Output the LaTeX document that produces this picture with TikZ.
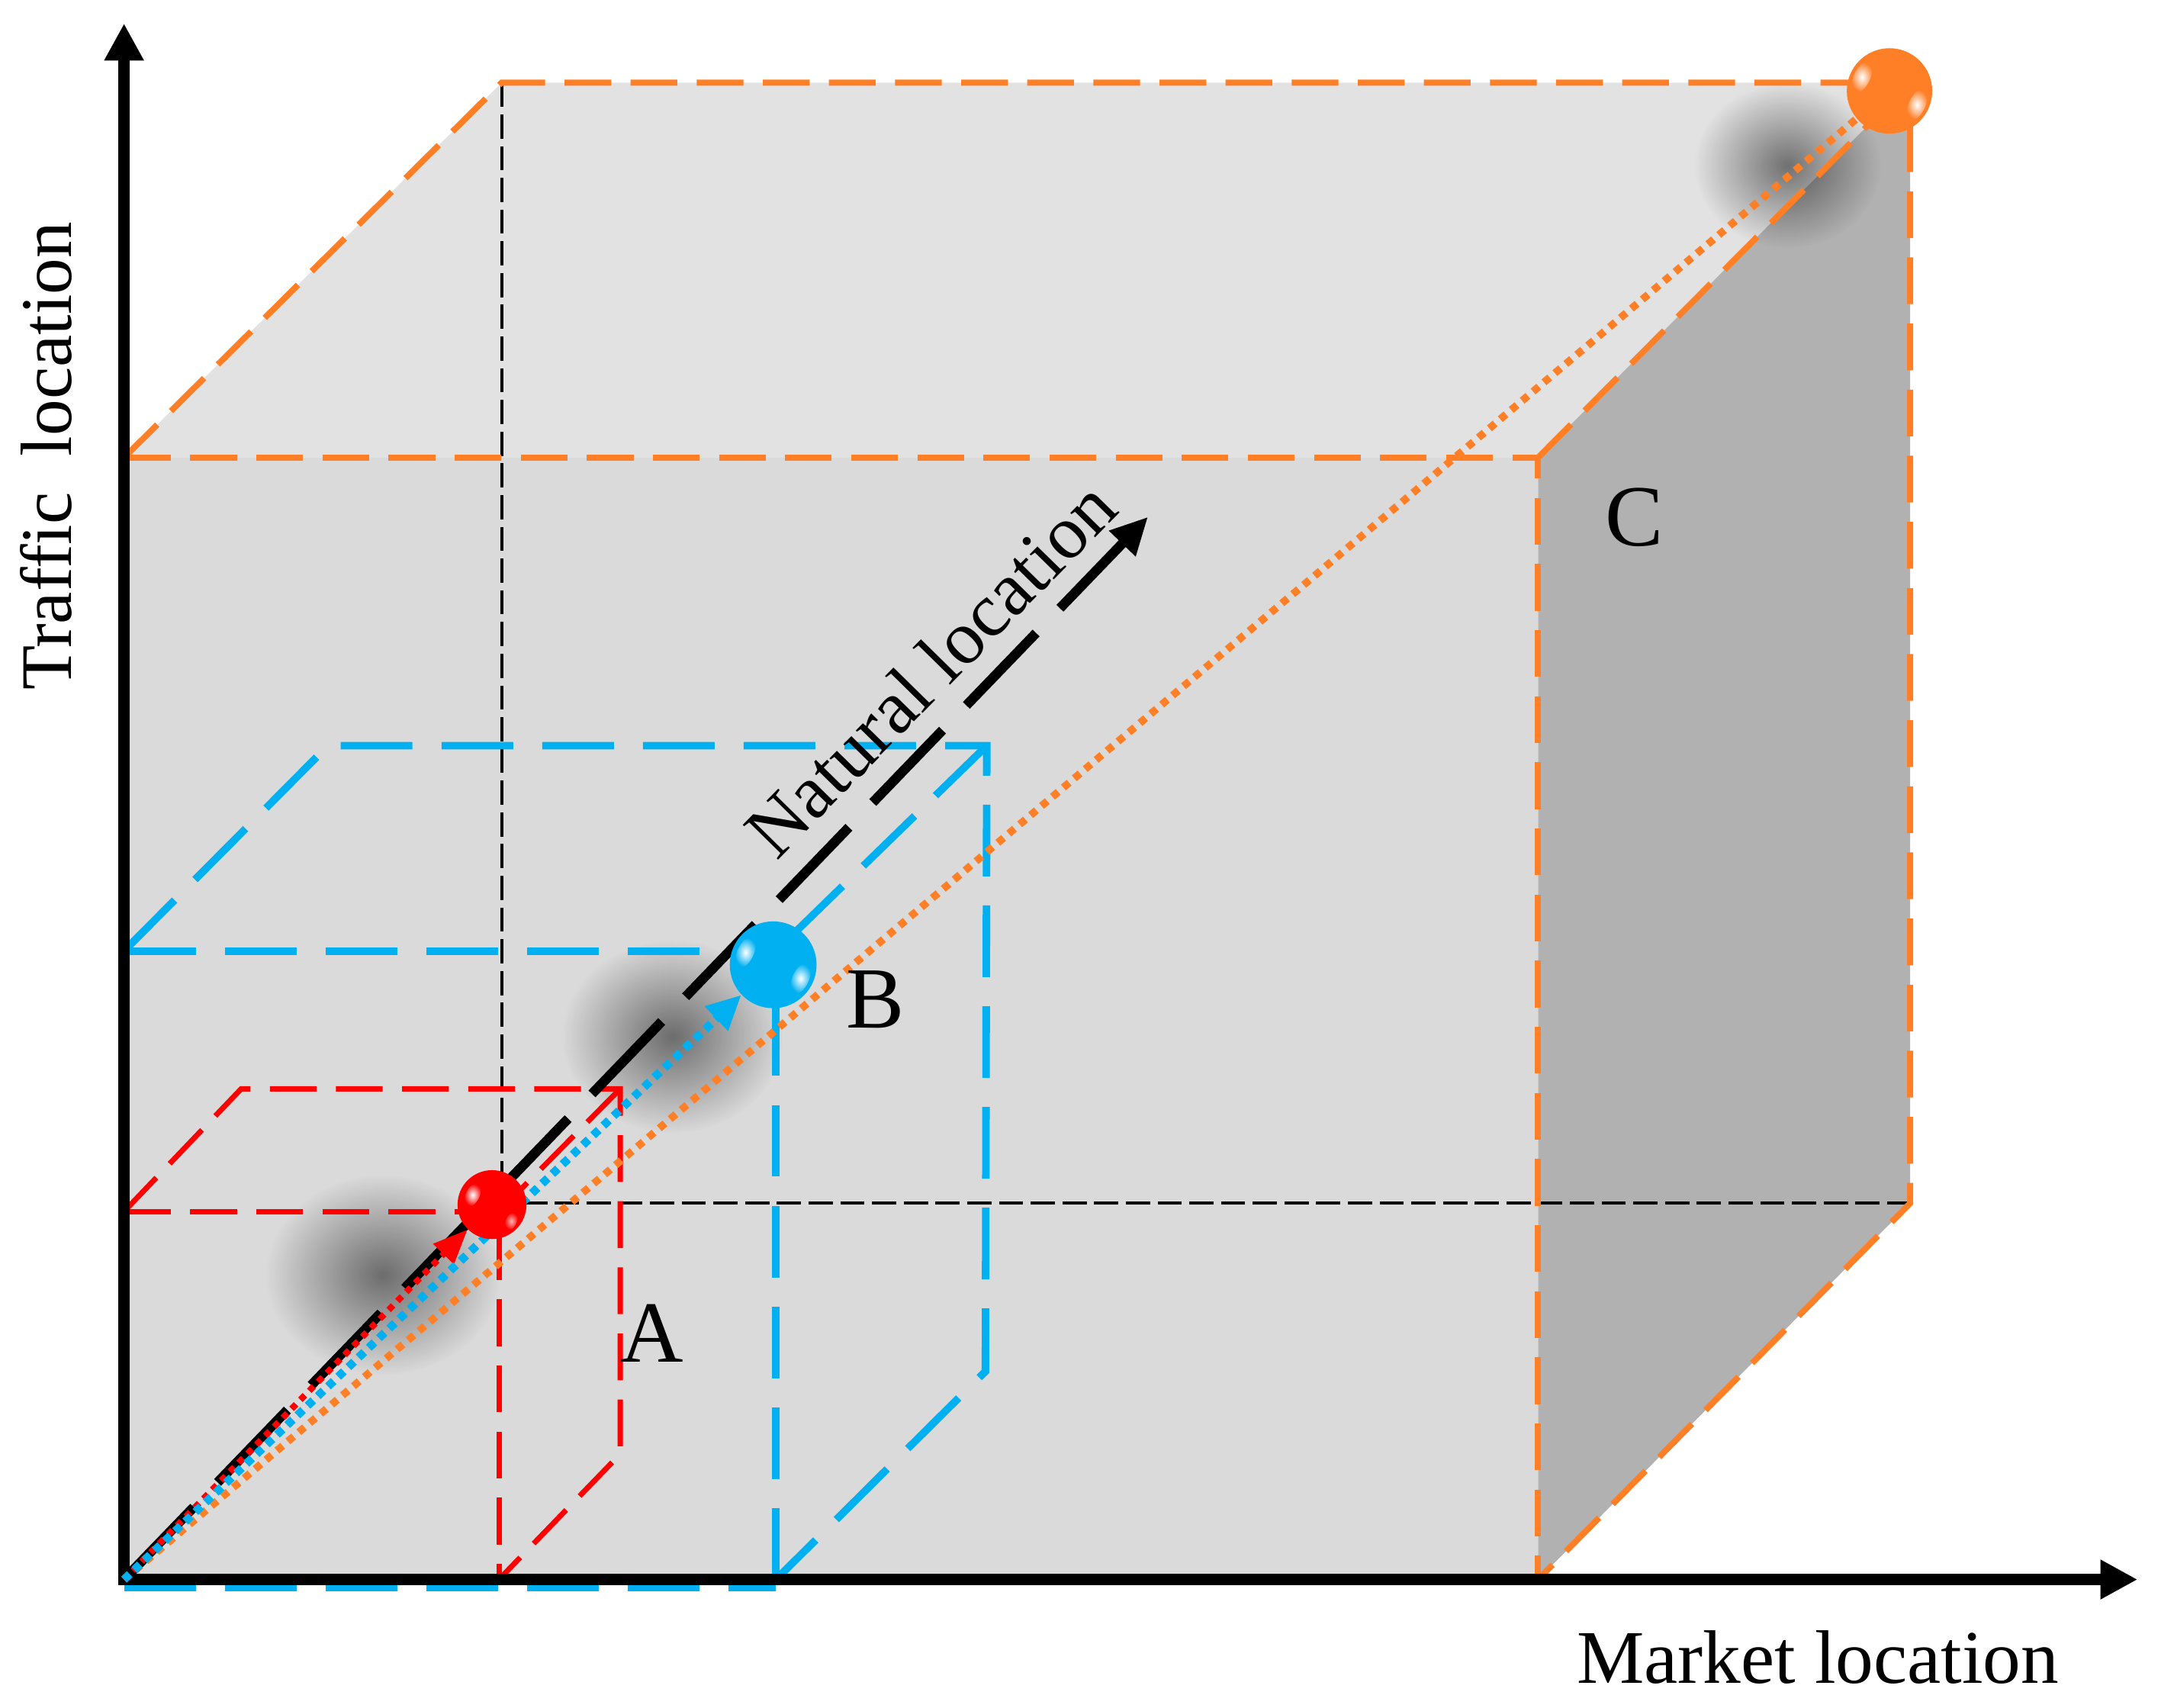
\documentclass[tikz,border=0pt]{standalone}
\usepackage{fontspec}
\setmainfont{Liberation Serif}
\usetikzlibrary{arrows.meta,fadings}
\definecolor{cOrange}{RGB}{255,127,39}
\definecolor{cBlue}{RGB}{0,176,240}
\definecolor{cRed}{RGB}{255,0,0}
\definecolor{faceFront}{RGB}{218,218,218}
\definecolor{faceTop}{RGB}{226,226,226}
\definecolor{faceSide}{RGB}{177,177,177}
\tikzfading[name=softspot, inner color=transparent!0, outer color=transparent!100]
\begin{document}
\begin{tikzpicture}[x=0.02cm, y=-0.02cm,
  orangeedge/.style={draw=cOrange, line width=2.5pt, dash pattern=on 19.3pt off 8pt},
  rededge/.style={draw=cRed, line width=2.2pt, dash pattern=on 19.3pt off 8pt},
  blueedge/.style={draw=cBlue, line width=3.1pt, dash pattern=on 29.6pt off 12pt},
  hiddenedge/.style={draw=black, line width=1.25pt, dash pattern=on 10pt off 3.1pt},
  axisline/.style={draw=black, line width=4.5pt, line join=miter,
     {Triangle[length=0.54cm,width=0.54cm]}-{Triangle[length=0.54cm,width=0.54cm]}},
  natarrow/.style={draw=black, line width=4pt, dash pattern=on 41.5pt off 14.2pt,
     -{Triangle[length=0.54cm,width=0.5cm]}},
  orangedot/.style={draw=cOrange, line width=3.1pt, dash pattern=on 3.1pt off 2.8pt},
  bluedot/.style={draw=cBlue, line width=3.4pt, dash pattern=on 3.2pt off 2.6pt,
     -{Triangle[length=0.5cm,width=0.46cm]}},
  reddot/.style={draw=cRed, line width=2.6pt, dash pattern=on 2.6pt off 2.6pt,
     -{Triangle[length=0.5cm,width=0.4cm]}},
  spherespot/.style={circle, inner sep=0pt, minimum size=#1},
  shadowspot/.style={fill=black, fill opacity=0.5, path fading=softspot},
  bigtext/.style={font=\fontsize{31.3pt}{36pt}\selectfont, inner sep=0pt},
  lettertext/.style={font=\fontsize{36pt}{40pt}\selectfont, inner sep=0pt, anchor=base}
]
\useasboundingbox (0,0) rectangle (1568,1239);

% big box corners
\coordinate (O) at (90,1146);
\coordinate (F1) at (90,332);
\coordinate (F2) at (1116,332);
\coordinate (F3) at (1116,1146);
\coordinate (B1) at (364,60);
\coordinate (B2) at (1386,60);
\coordinate (B3) at (1386,873);
\coordinate (B4) at (364,873);

% faces
\fill[faceFront] (F1) -- (F2) -- (F3) -- (O) -- cycle;
\fill[faceTop] (F1) -- (B1) -- (B2) -- (F2) -- cycle;
\fill[faceSide] (F2) -- (B2) -- (B3) -- (F3) -- cycle;

% soft shadows
\fill[shadowspot] (278,925) ellipse [x radius=1.7cm, y radius=1.45cm];
\fill[shadowspot] (488,752) ellipse [x radius=1.6cm, y radius=1.4cm];
\fill[shadowspot] (1297,120) ellipse [x radius=1.35cm, y radius=1.2cm];

% hidden edges
\draw[hiddenedge] (B1) -- (B4) -- (B3);

% big orange box edges
\draw[orangeedge] (F1) -- (F2) -- (F3);
\draw[orangeedge] (F1) -- (B1) -- (B2) -- (B3) -- (F3);
\draw[orangeedge] (F2) -- (B2);

% red box
\coordinate (RA) at (90,879);
\coordinate (RB) at (362,879);
\coordinate (RC) at (362,1146);
\coordinate (RD) at (175,790);
\coordinate (RE) at (450,790);
\coordinate (RF) at (450,1055);
\draw[rededge] (RA) -- (RB) -- (RC);
\draw[rededge] (RA) -- (RD) -- (RE) -- (RF) -- (RC);
\draw[rededge] (RE) -- (RB);

% blue box
\coordinate (BA) at (90,690);
\coordinate (BB) at (563,690);
\coordinate (BC) at (563,1146);
\coordinate (BD) at (238,541);
\coordinate (BE) at (716,541);
\coordinate (BF) at (715,995);
\coordinate (BG) at (90,1152);
\coordinate (BH) at (563,1152);
\draw[blueedge] (BA) -- (BB) -- (BC);
\draw[blueedge] (BA) -- (BD) -- (BE) -- (BF) -- (BC);
\draw[blueedge] (BE) -- (BB);
\draw[blueedge] (BG) -- (BH);

% axes
\coordinate (Ytip) at (90,17);
\coordinate (Xtip) at (1551,1146);
\draw[axisline] (Ytip) -- (O) -- (Xtip);

% sphere positions (drawn later)
\path node[spherespot=1cm] (redS) at (357,874) {};
\path node[spherespot=1.26cm] (blueS) at (561,700) {};
\path node[spherespot=1.24cm] (orangeS) at (1371,66) {};
\coordinate (Ntip) at (833,375);

% diagonal connectors
\draw[orangedot] (O) -- (orangeS);
\draw[natarrow] (O) -- (Ntip);
\draw[reddot] (O) -- (redS);
\draw[bluedot] (O) -- (blueS);

% spheres
\fill[cRed] (redS.center) circle [radius=0.5cm];
\begin{scope}[shift={(redS.center)}]
  \shade[inner color=white, outer color=cRed, rotate around={-25:(-14,-7)}] (-14,-7) ellipse [x radius=0.1cm, y radius=0.18cm];
  \shade[inner color=white!70!cRed, outer color=cRed, rotate around={-25:(14,12)}] (14,12) ellipse [x radius=0.08cm, y radius=0.14cm];
\end{scope}
\fill[cBlue] (blueS.center) circle [radius=0.63cm];
\begin{scope}[shift={(blueS.center)}]
  \shade[inner color=white, outer color=cBlue, rotate around={-25:(-20,-9)}] (-20,-9) ellipse [x radius=0.12cm, y radius=0.24cm];
  \shade[inner color=white, outer color=cBlue, rotate around={-25:(20,10)}] (20,10) ellipse [x radius=0.12cm, y radius=0.24cm];
\end{scope}
\fill[cOrange] (orangeS.center) circle [radius=0.62cm];
\begin{scope}[shift={(orangeS.center)}]
  \shade[inner color=white, outer color=cOrange, rotate around={-25:(-20,-10)}] (-20,-10) ellipse [x radius=0.12cm, y radius=0.24cm];
  \shade[inner color=white, outer color=cOrange, rotate around={-25:(20,10)}] (20,10) ellipse [x radius=0.12cm, y radius=0.24cm];
\end{scope}

% labels
\node[font=\fontsize{30pt}{34pt}\selectfont, inner sep=0pt, rotate=90] (ylab) at (33.5,331) {Traffic\ \ location};
\node[bigtext, anchor=base] (xlab) at (1319,1221.5) {Market location};
\node[bigtext, rotate=45.5] (nlab) at (675,485) {Natural location};
\node[lettertext] (labA) at (473,988) {A};
\node[lettertext] (labB) at (635,746) {B};
\node[lettertext] (labC) at (1186,396) {C};
\end{tikzpicture}
\end{document}
